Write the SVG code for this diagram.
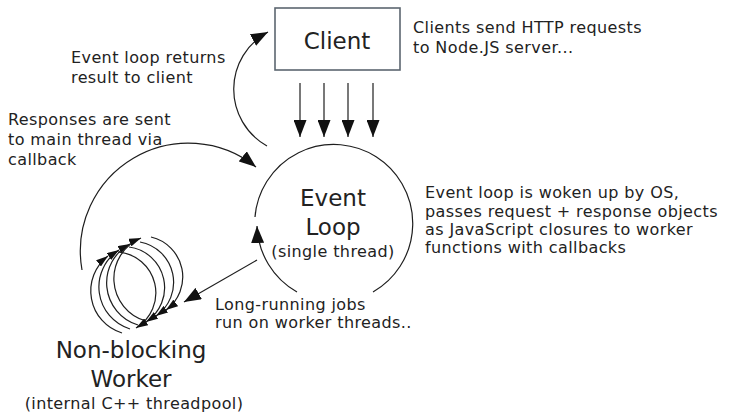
<svg xmlns="http://www.w3.org/2000/svg" width="732" height="412" viewBox="0 0 732 412">
  <style>
    text { font-family: "DejaVu Sans", Verdana, sans-serif; fill: #222222; }
    .lbl { font-size: 16px; letter-spacing: 0.4px; }
    .big { font-size: 23px; }
    .mid { text-anchor: middle; }
    .ln { fill: none; stroke: #1e1e1e; stroke-width: 1.2; }
    .ar { marker-end: url(#ah); }
    .ars { marker-end: url(#ahs); }
  </style>
  <defs>
    <marker id="ah" viewBox="0 0 17 13" refX="17" refY="6.5" markerWidth="17" markerHeight="13" orient="auto" markerUnits="userSpaceOnUse">
      <path d="M0,0 L17,6.5 L0,13 z" fill="#111"/>
    </marker>
    <marker id="ahs" viewBox="0 0 12 8" refX="12" refY="4" markerWidth="12" markerHeight="8" orient="auto" markerUnits="userSpaceOnUse">
      <path d="M0,0 L12,4 L0,8 z" fill="#111"/>
    </marker>
  </defs>

  <rect x="0" y="0" width="732" height="412" fill="#ffffff"/>

  <!-- Client box -->
  <g id="client">
    <rect x="275" y="8" width="125" height="62" fill="#ffffff" stroke="#5c6670" stroke-width="1.6"/>
    <text class="big mid" x="337" y="49">Client</text>
  </g>

  <!-- Event loop circle -->
  <g id="event-loop">
    <path class="ln" d="M373,292 A79,79 0 1 0 255,217"/>
    <text class="big mid" x="333" y="206">Event</text>
    <text class="big mid" x="333" y="235">Loop</text>
    <text class="lbl mid" x="333" y="257">(single thread)</text>
  </g>

  <!-- Worker pool coil -->
  <g id="worker">
    <g class="ln ars">
      <path d="M122,333 A44,44 0 0 1 108,256"/>
      <path d="M130,329 A44,44 0 0 1 119,250"/>
      <path d="M138,325 A44,44 0 0 1 130,244"/>
      <path d="M146,321 A44,44 0 0 1 141,238"/>
      <path d="M118,252 A41,41 0 0 1 136,328"/>
      <path d="M129,247 A41,41 0 0 1 146,322"/>
      <path d="M140,242 A41,41 0 0 1 156,316"/>
      <path d="M151,237 A41,41 0 0 1 166,310"/>
    </g>
    <text class="big mid" x="131" y="358">Non-blocking</text>
    <text class="big mid" x="131" y="387">Worker</text>
    <text class="lbl mid" x="134" y="409">(internal C++ threadpool)</text>
  </g>

  <!-- Connectors -->
  <g id="connectors">
    <path class="ln ar" d="M300,83 V137"/>
    <path class="ln ar" d="M324,83 V137"/>
    <path class="ln ar" d="M348,83 V137"/>
    <path class="ln ar" d="M373,83 V137"/>
    <path class="ln ar" d="M267,146 A65,65 0 0 1 268,32"/>
    <path class="ln ar" d="M82,270 A108,108 0 0 1 256,167"/>
    <path class="ln ar" d="M297,292 A79,79 0 0 1 257,226"/>
    <path class="ln ar" d="M257,260 L184,302"/>
  </g>

  <!-- Annotations -->
  <g id="notes" class="lbl">
    <text x="413" y="33">Clients send HTTP requests</text>
    <text x="413" y="53">to Node.JS server...</text>
    <text x="71" y="63">Event loop returns</text>
    <text x="71" y="83">result to client</text>
    <text x="8" y="125">Responses are sent</text>
    <text x="8" y="145">to main thread via</text>
    <text x="8" y="165">callback</text>
    <text x="425" y="198">Event loop is woken up by OS,</text>
    <text x="425" y="217">passes request + response objects</text>
    <text x="425" y="235">as JavaScript closures to worker</text>
    <text x="425" y="253">functions with callbacks</text>
    <text x="215" y="310">Long-running jobs</text>
    <text x="215" y="328">run on worker threads..</text>
  </g>
</svg>
